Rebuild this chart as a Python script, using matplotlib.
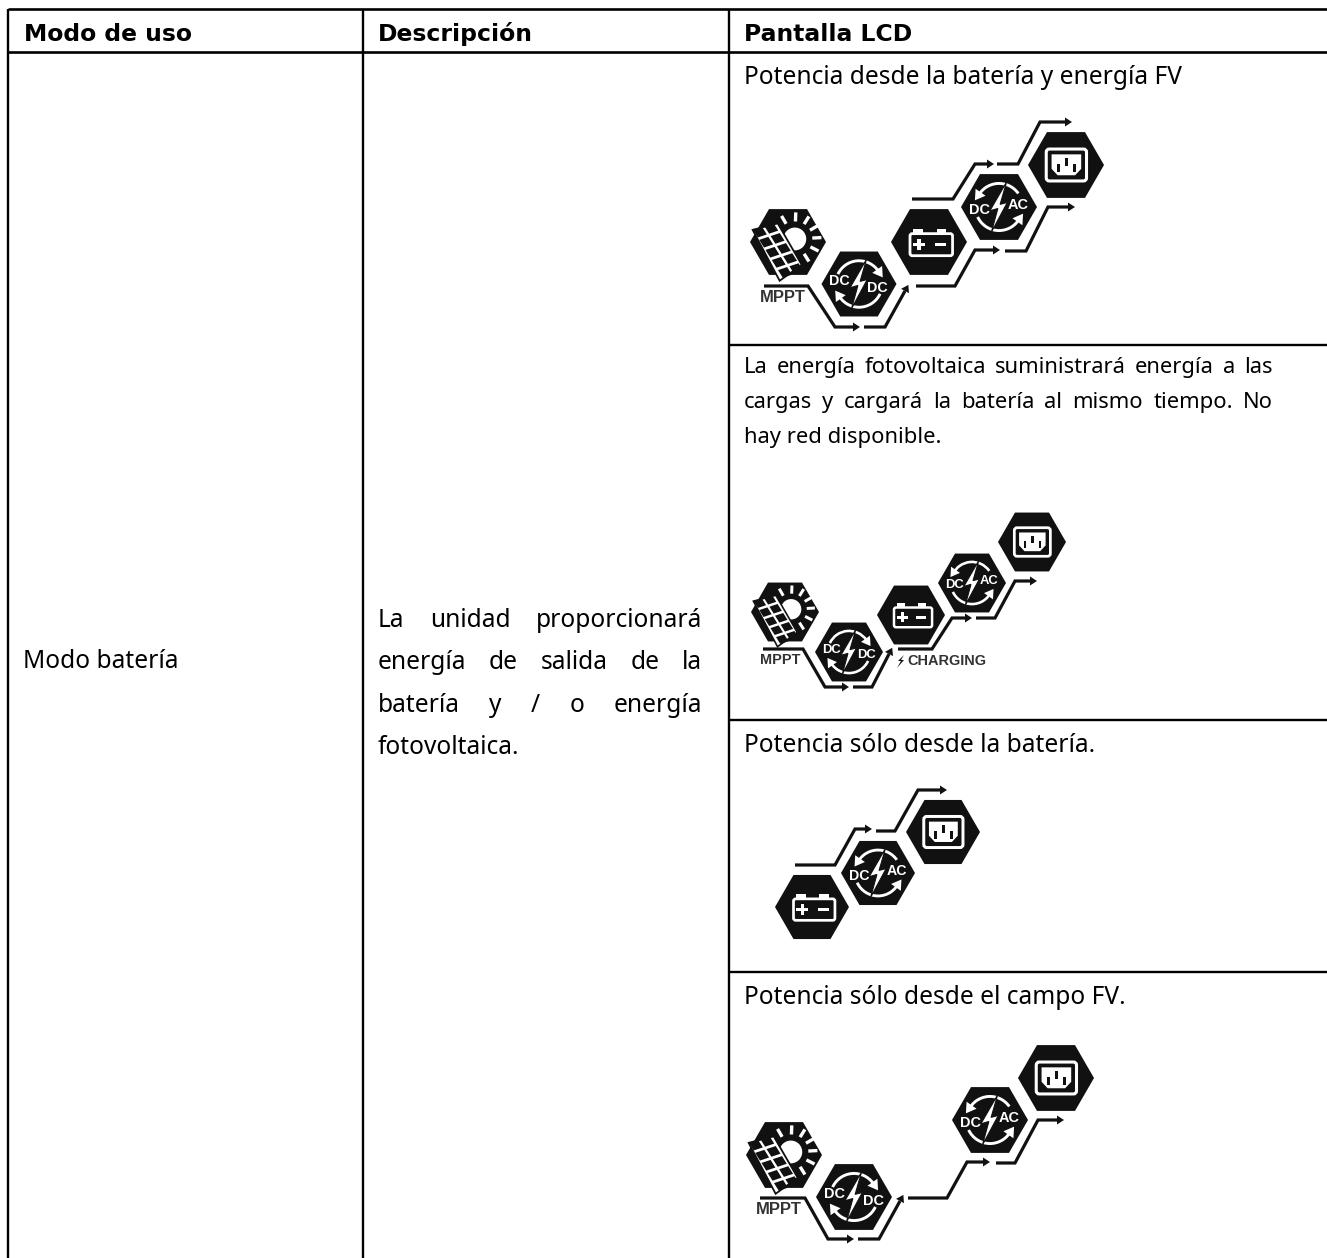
import numpy as np
import matplotlib
matplotlib.use('Agg')
import matplotlib.pyplot as plt
from matplotlib.patches import Polygon, Circle, Arc, FancyBboxPatch, Rectangle

# ---------------------------
# Table content
# ---------------------------
headers = ['Modo de uso', 'Descripción', 'Pantalla LCD']
mode_name = 'Modo batería'
description = ['La unidad proporcionará', 'energía de salida de la',
               'batería y / o energía', 'fotovoltaica.']
caption_pv_batt = 'Potencia desde la batería y energía FV'
caption_charge = ['La energía fotovoltaica suministrará energía a las',
                  'cargas y cargará la batería al mismo tiempo. No',
                  'hay red disponible.']
caption_batt = 'Potencia sólo desde la batería.'
caption_pv = 'Potencia sólo desde el campo FV.'

W, H = 1327, 1258
BODY = 24.5
SMALL = 22

fig = plt.figure(figsize=(W / 100, H / 100), dpi=100)
ax = fig.add_axes([0, 0, 1, 1])
ax.set_xlim(0, W)
ax.set_ylim(H, 0)
ax.axis('off')


def px(size):
    return size * 0.72


def label(x, y, s, size=BODY, family='Noto Sans', **kw):
    return ax.text(x, y, s, fontsize=px(size), va='baseline', color='black', family=family, **kw)


def justified(x0, x1, y, line, size=BODY):
    # word spacing like a justified paragraph
    words = line.split()
    items = [label(x0, y, w, size=size) for w in words]
    rend = fig.canvas.get_renderer()
    inv = ax.transData.inverted()
    widths = []
    for t in items:
        bb = t.get_window_extent(rend)
        widths.append(inv.transform((bb.x1, 0))[0] - inv.transform((bb.x0, 0))[0])
    gap = (x1 - x0 - sum(widths)) / (len(words) - 1)
    x = x0
    for t, w in zip(items, widths):
        t.set_x(x)
        x += w + gap


# ---------------------------
# Icons (y axis points down, all sizes relative to r)
# ---------------------------
def hexagon(cx, cy, r):
    a = np.radians(np.arange(0, 360, 60))
    ax.add_patch(Polygon(np.c_[cx + r * np.cos(a), cy + r * np.sin(a)],
                         fc='#111111', ec='none', zorder=2))


def to_xy(cx, cy, r, pts):
    return np.array(pts) * r + (cx, cy)


def solar(cx, cy, r):
    hexagon(cx, cy, r)
    sx, sy = cx + 0.18 * r, cy - 0.08 * r
    ax.add_patch(Circle((sx, sy), 0.3 * r, fc='white', ec='none', zorder=3))
    for deg in [-120, -88, -58, -30, -3, 27, 58]:
        a = np.radians(deg)
        ax.plot([sx + 0.46 * r * np.cos(a), sx + 0.7 * r * np.cos(a)],
                [sy + 0.46 * r * np.sin(a), sy + 0.7 * r * np.sin(a)],
                color='white', lw=2.4 * r / 38, solid_capstyle='butt', zorder=3)
    panel = [(-0.93, -0.32), (-0.27, -0.49), (0.36, 0.6), (-0.22, 1.02)]
    ax.add_patch(Polygon(to_xy(cx, cy, r, panel), fc='white', ec='#111111',
                         lw=1.3 * r / 38, zorder=4))
    origin = np.array([-0.74, -0.26])
    col = np.array([0.30, -0.10])
    row = np.array([0.165, 0.265])
    for i in range(5):
        for j in range(2):
            c = origin + i * row + j * col
            cell = [c - 0.4 * col - 0.38 * row, c + 0.4 * col - 0.38 * row,
                    c + 0.4 * col + 0.38 * row, c - 0.4 * col + 0.38 * row]
            ax.add_patch(Polygon(to_xy(cx, cy, r, cell), fc='#111111', ec='none', zorder=5))


def cycle(cx, cy, r, left, right, clockwise):
    hexagon(cx, cy, r)
    lw = 2.1 * r / 38
    R = 0.62 * r
    # inverted y, so these angles run clockwise on screen
    ax.add_patch(Arc((cx, cy), 2 * R, 2 * R, theta1=205, theta2=325, ec='white', lw=lw, zorder=3))
    ax.add_patch(Arc((cx, cy), 2 * R, 2 * R, theta1=25, theta2=155, ec='white', lw=lw, zorder=3))
    ends = [(-35, 1), (145, 1)] if clockwise else [(-145, -1), (35, -1)]
    for deg, sign in ends:
        a = np.radians(deg)
        n = np.array([np.cos(a), np.sin(a)])
        t = np.array([-np.sin(a), np.cos(a)]) * sign
        p = n * 0.62
        tri = [p + 0.22 * t, p - 0.04 * t + 0.16 * n, p - 0.04 * t - 0.16 * n]
        ax.add_patch(Polygon(to_xy(cx, cy, r, tri), fc='white', ec='none', zorder=3))
    bolt = [(0.2, -0.66), (-0.24, 0.1), (-0.03, 0.04), (-0.2, 0.66), (0.22, -0.12), (0.03, -0.07)]
    ax.add_patch(Polygon(to_xy(cx, cy, r, bolt), fc='white', ec='#111111', lw=0.8, zorder=4))
    fs = px(14.5) * r / 38
    ly, ry = (-0.07, 0.1) if clockwise else (0.07, -0.06)
    for s, x, y in [(left, -0.52, ly), (right, 0.5, ry)]:
        ax.text(cx + x * r, cy + y * r, s, color='white', fontsize=fs, family='Liberation Sans',
                weight='bold', ha='center', va='center', zorder=5)


def battery(cx, cy, r):
    hexagon(cx, cy, r)
    lw = 2.0 * r / 38
    ax.add_patch(FancyBboxPatch((cx - 0.5 * r, cy - 0.22 * r), 1.12 * r, 0.58 * r,
                                boxstyle=f'round,pad=0,rounding_size={0.06 * r}',
                                fc='#111111', ec='white', lw=lw, zorder=3))
    for x in [-0.42, 0.2]:
        ax.add_patch(Rectangle((cx + x * r, cy - 0.35 * r), 0.25 * r, 0.13 * r,
                               fc='white', ec='none', zorder=3))
    ax.add_patch(Rectangle((cx - 0.42 * r, cy + 0.02 * r), 0.32 * r, 0.09 * r, fc='white', ec='none', zorder=4))
    ax.add_patch(Rectangle((cx - 0.305 * r, cy - 0.09 * r), 0.09 * r, 0.31 * r, fc='white', ec='none', zorder=4))
    ax.add_patch(Rectangle((cx + 0.15 * r, cy + 0.02 * r), 0.3 * r, 0.09 * r, fc='white', ec='none', zorder=4))


def socket(cx, cy, r):
    hexagon(cx, cy, r)
    lw = 2.2 * r / 38
    ax.add_patch(FancyBboxPatch((cx - 0.52 * r, cy - 0.42 * r), 1.06 * r, 0.84 * r,
                                boxstyle=f'round,pad=0,rounding_size={0.08 * r}',
                                fc='#111111', ec='white', lw=lw, zorder=3))
    inner = [(-0.38, -0.28), (0.4, -0.28), (0.4, 0.1), (0.24, 0.27), (-0.22, 0.27), (-0.38, 0.1)]
    ax.add_patch(Polygon(to_xy(cx, cy, r, inner), fc='white', ec='none', zorder=4))
    for x, y, h in [(-0.2, 0.08, 0.2), (0.01, -0.08, 0.2), (0.23, 0.08, 0.2)]:
        ax.add_patch(Rectangle((cx + (x - 0.035) * r, cy + (y - h / 2) * r), 0.07 * r, h * r,
                               fc='#111111', ec='none', zorder=5))


def flow(pts):
    # polyline with a head on its last segment
    pts = np.array(pts, dtype=float)
    ax.plot(pts[:, 0], pts[:, 1], color='#111111', lw=2.3, solid_joinstyle='miter',
            solid_capstyle='butt', zorder=2)
    d = pts[-1] - pts[-2]
    d /= np.hypot(*d)
    n = np.array([-d[1], d[0]])
    tip = pts[-1] + 7 * d
    ax.add_patch(Polygon([tip, pts[-1] + 4.5 * n, pts[-1] - 4.5 * n], fc='#111111', ec='none', zorder=2))


def badge(x, y, s, size=16.5):
    ax.text(x, y, s, color='#333333', fontsize=px(size), family='Liberation Sans',
            weight='bold', ha='left', va='center')


# ---------------------------
# Grid
# ---------------------------
ax.vlines([8, 363, 729], 9, H, color='black', lw=1.7)
ax.hlines([9, 52], 8, W, color='black', lw=1.9)
ax.hlines([345, 720, 972], 729, W, color='black', lw=1.7)

# ---------------------------
# Text
# ---------------------------
for x, s in zip([24, 378, 744], headers):
    label(x, 41, s, size=23.5, family='DejaVu Sans', weight='bold')
label(23, 668, mode_name)
justified(378, 702, 627, description[0])
justified(378, 702, 669, description[1])
justified(378, 702, 712, description[2])
label(378, 754, description[3])
label(744, 84, caption_pv_batt)
justified(744, 1273, 373, caption_charge[0], size=SMALL)
justified(744, 1273, 408, caption_charge[1], size=SMALL)
label(744, 443, caption_charge[2], size=SMALL)
label(744, 752, caption_batt)
label(744, 1004, caption_pv)

# ---------------------------
# Panel 1: PV + battery
# ---------------------------
solar(788, 242, 38)
cycle(859, 284, 37.5, 'DC', 'DC', True)
battery(929, 242, 38)
cycle(999, 207, 38, 'DC', 'AC', False)
socket(1066, 165, 38)
flow([(764, 286), (808, 286), (835, 327), (853, 327)])
flow([(864, 327), (885, 327), (905, 291)])
flow([(916, 286), (955, 286), (975, 250), (993, 250)])
flow([(1005, 251), (1026, 251), (1048, 207), (1068, 207)])
flow([(912, 199), (953, 199), (975, 164), (987, 164)])
flow([(997, 164), (1018, 164), (1040, 122), (1065, 122)])
badge(760, 298, 'MPPT')

# ---------------------------
# Panel 2: PV to load and charging
# ---------------------------
solar(785, 612, 34)
cycle(849, 652, 34, 'DC', 'DC', True)
battery(911, 615, 34)
cycle(972, 583, 34, 'DC', 'AC', False)
socket(1032, 542, 34)
flow([(763, 649), (803, 649), (825, 687), (842, 687)])
flow([(853, 687), (872, 687), (889, 654)])
flow([(898, 649), (932, 649), (952, 618), (965, 618)])
flow([(976, 618), (995, 618), (1015, 581), (1030, 581)])
badge(760, 660, 'MPPT', size=14.5)
badge(907, 661, 'CHARGING', size=14.5)
ax.add_patch(Polygon([(904, 655), (898, 661), (901, 661), (897, 668), (904, 660), (901, 660)],
                     fc='#111111', ec='none'))

# ---------------------------
# Panel 3: battery only
# ---------------------------
battery(812, 907, 37)
cycle(878, 873, 37, 'DC', 'AC', False)
socket(943, 832, 37)
flow([(795, 865), (835, 865), (855, 829), (865, 829)])
flow([(876, 831), (895, 831), (918, 790), (940, 790)])

# ---------------------------
# Panel 4: PV only
# ---------------------------
solar(784, 1155, 38)
cycle(854, 1197, 38, 'DC', 'DC', True)
cycle(990, 1120, 38, 'DC', 'AC', False)
socket(1056, 1078, 38)
flow([(760, 1198), (805, 1198), (828, 1239), (847, 1239)])
flow([(858, 1239), (879, 1239), (900, 1201)])
flow([(908, 1198), (947, 1198), (967, 1162), (983, 1162)])
flow([(996, 1163), (1015, 1163), (1038, 1120), (1057, 1120)])
badge(756, 1210, 'MPPT')

fig.savefig('out.png', dpi=100, facecolor='white')
